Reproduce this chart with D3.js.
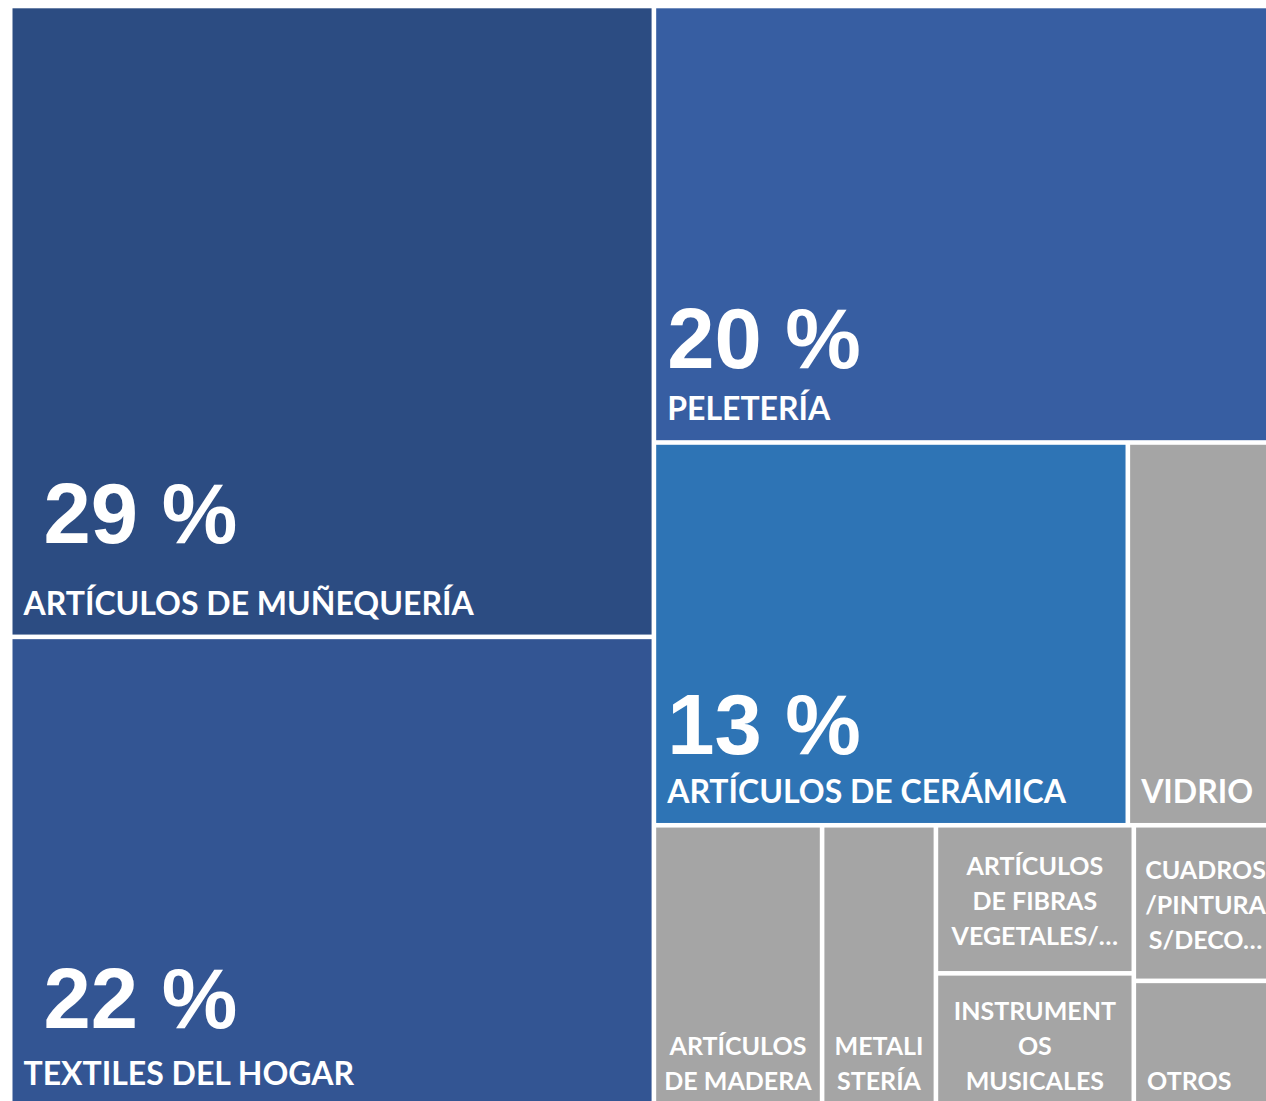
<!DOCTYPE html>
<html>
<head>
<meta charset="utf-8">
<script src="https://cdn.jsdelivr.net/npm/d3@7"></script>
<style>
  html, body { margin: 0; padding: 0; background: #fff; overflow: hidden; }
  svg { display: block; }
</style>
</head>
<body>
<div id="chart-container"></div>
<script>
// Categorías (con el salto de línea tal como aparece en el gráfico)
const categories = [
    "ARTÍCULOS DE MUÑEQUERÍA",
    "TEXTILES DEL HOGAR",
    "PELETERÍA",
    "ARTÍCULOS DE CERÁMICA",
    "VIDRIO",
    "ARTÍCULOS\nDE MADERA",
    "METALI\nSTERÍA",
    "ARTÍCULOS\nDE FIBRAS\nVEGETALES/…",
    "INSTRUMENT\nOS\nMUSICALES",
    "CUADROS\n/PINTURA\nS/DECO…",
    "OTROS"
];

const shares = [29.1, 21.7, 19.5, 13.0, 4.1, 3.4, 2.3, 2.1, 1.9, 1.6, 1.3];

// Solo los cuatro primeros muestran el porcentaje
const showPct = [true, true, true, true, false, false, false, false, false, false, false];

// Cuántos rectángulos pone Excel en cada franja
const stripSizes = [2, 1, 2, 1, 1, 2, 2];

// Colores: los cuatro grandes en azul, el resto gris
const colorScale = d3.scaleOrdinal()
    .domain(categories.slice(0, 4))
    .range(["#2c4c82", "#335593", "#375ea2", "#2e74b5"])
    .unknown("#a5a5a5");

// Kích thước
const width = 1266;
const height = 1101;
const frame = { x: 12.5, y: 8.3, w: 1262.5, h: 1096.7 };

// Ajustes del rótulo del porcentaje (desplazamiento x y distancia a la categoría)
const pctTweak = {
    "ARTÍCULOS DE MUÑEQUERÍA": { dx: 20, gap: 72 },
    "TEXTILES DEL HOGAR": { dx: 20, gap: 57 },
    "PELETERÍA": { dx: 0, gap: 52 },
    "ARTÍCULOS DE CERÁMICA": { dx: 0, gap: 49 }
};

// Teselado por franjas, igual que el treemap de Excel
function excelTile(parent, x0, y0, x1, y1) {
    const nodes = parent.children;
    let value = parent.value;
    let i = 0;
    stripSizes.forEach((n, k) => {
        const kids = nodes.slice(i, i + n);
        const row = { children: kids, value: d3.sum(kids, (d) => d.value) };
        const dx = x1 - x0, dy = y1 - y0;
        const last = k === stripSizes.length - 1;
        if (last) {
            // la última franja ocupa todo: se apila a lo largo del lado largo
            if (dx < dy) d3.treemapSlice(row, x0, y0, x1, y1);
            else d3.treemapDice(row, x0, y0, x1, y1);
        } else if (dx < dy) {
            const yy = y0 + dy * row.value / value;
            d3.treemapDice(row, x0, y0, x1, yy);
            y0 = yy;
        } else {
            const xx = x0 + dx * row.value / value;
            d3.treemapSlice(row, x0, y0, xx, y1);
            x0 = xx;
        }
        value -= row.value;
        i += n;
    });
}

const data = categories.map((name, i) => ({ name, value: shares[i], pct: showPct[i] }));

const root = d3.hierarchy({ children: data })
    .sum((d) => d.value || 0);

d3.treemap()
    .tile(excelTile)
    .size([frame.w, frame.h])
    .paddingInner(4.6)(root);

const svg = d3.select("#chart-container")
    .append("svg")
    .attr("width", width)
    .attr("height", height)
    .append("g")
    .attr("transform", `translate(${frame.x}, ${frame.y})`);

const cell = svg.selectAll(".cell")
    .data(root.leaves())
    .enter()
    .append("g")
    .attr("class", "cell");

cell.append("rect")
    .attr("x", (d) => d.x0)
    .attr("y", (d) => d.y0)
    .attr("width", (d) => d.x1 - d.x0)
    .attr("height", (d) => d.y1 - d.y0)
    .attr("fill", (d) => colorScale(d.data.name));

const lineH = 35;

cell.each(function (d) {
    const g = d3.select(this);
    const lines = d.data.name.split("\n");
    const multi = lines.length > 1;
    const truncated = d.data.name.includes("…");
    const cx = (d.x0 + d.x1) / 2;
    // los rectángulos grandes llevan el rótulo más grande
    const big = (d.x1 - d.x0) * (d.y1 - d.y0) > 50000;

    // Línea base de la última línea
    let lastBase = d.y1 - (big ? 20 : 15);
    if (truncated) {
        const mid = (d.y0 + d.y1) / 2;
        lastBase = mid + (lines.length - 1) * lineH / 2 + 11;
    }

    g.selectAll("text.cat")
        .data(lines)
        .enter()
        .append("text")
        .attr("class", "cat")
        .attr("x", multi ? cx : d.x0 + 11)
        .attr("y", (l, j) => lastBase - (lines.length - 1 - j) * lineH)
        .style("text-anchor", multi ? "middle" : "start")
        .style("font-family", "Lato, 'Open Sans', sans-serif")
        .style("font-weight", "bold")
        .style("font-size", big ? "32px" : "25px")
        .style("fill", "#fff")
        .text((l) => l);

    if (d.data.pct) {
        const t = pctTweak[d.data.name] || { dx: 0, gap: 52 };
        g.append("text")
            .attr("x", d.x0 + 11 + t.dx)
            .attr("y", lastBase - t.gap)
            .style("font-family", "'Liberation Sans', Arial, sans-serif")
            .style("font-weight", "bold")
            .style("font-size", "85px")
            .style("fill", "#fff")
            .text(`${Math.round(d.data.value)} %`);
    }
});
</script>
</body>
</html>
